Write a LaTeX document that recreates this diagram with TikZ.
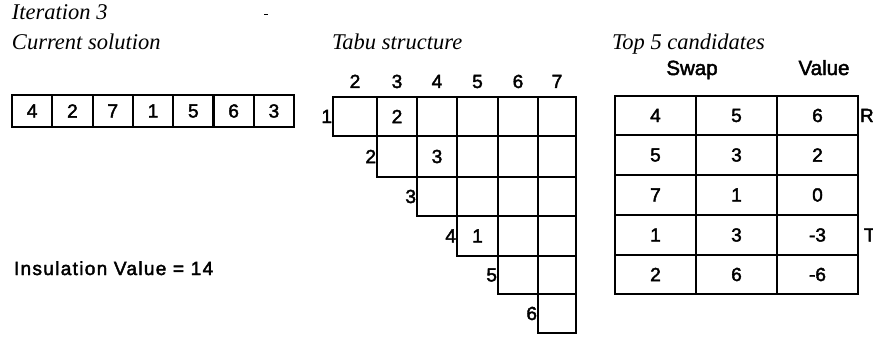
\documentclass[tikz,border=0pt]{standalone}
\usepackage{fontspec}
\setmainfont{Liberation Sans}
\newfontfamily\labelfont{Liberation Sans}[RawFeature={embolden=2.2}]
\newfontfamily\titlefont{Liberation Serif}
\begin{document}
\begin{tikzpicture}[x=1pt,y=-1pt,
  every node/.style={inner sep=0pt,outer sep=0pt},
  rule/.style={line width=2.1pt},
  title/.style={anchor=base west,font=\titlefont\itshape\fontsize{22.5}{22.5}\selectfont},
  digit/.style={font=\labelfont\fontsize{19}{19}\selectfont},
  head/.style={font=\labelfont\fontsize{20.5}{20.5}\selectfont},
  cell/.style={draw,rule,rectangle,anchor=north west,font=\labelfont\fontsize{19}{19}\selectfont}
]
\useasboundingbox (0,0) rectangle (873,337);
\clip (0,0) rectangle (873,337);

% headings
\node[title] (it) at (12,20) {Iteration 3};
\node[title] (cs) at (12,50) {Current solution};
\node[title] (ts) at (332,50) {Tabu structure};
\node[title] (tc) at (612,50) {Top 5 candidates};
\draw[line width=0.9pt] (264,14) -- (268,14);

% current solution: the permutation in a row of boxes
\foreach \v [count=\i] in {4,2,7,1,5,6,3}{
  \node[cell,minimum width=40.3pt,minimum height=32pt]
    (s\i) at ({12+40.3*(\i-1)},95) {\v};
}
\node[anchor=base west,font=\labelfont\fontsize{19}{19}\selectfont\addfontfeature{LetterSpace=7}]
  (ins) at (14,275) {Insulation Value = 14};

% tabu structure: upper triangular grid
\def\colx{{333,377,417,457,498,538,576}}
\def\rowy{{97,136,177,216,256,294,333}}
\foreach \c [count=\j from 2] in {0,...,5}{
  \pgfmathsetmacro{\xa}{\colx[\c]}
  \pgfmathsetmacro{\xb}{\colx[\c+1]}
  \node[digit,anchor=base] (h\j) at ({(\xa+\xb)/2},88) {\j};
}
\foreach \r in {0,...,5}{
  \pgfmathtruncatemacro{\rn}{\r+1}
  \pgfmathsetmacro{\ya}{\rowy[\r]}
  \pgfmathsetmacro{\yb}{\rowy[\r+1]}
  \foreach \c in {\r,...,5}{
    \pgfmathsetmacro{\xa}{\colx[\c]}
    \pgfmathsetmacro{\xb}{\colx[\c+1]}
    \node[cell,minimum width={\xb-\xa},minimum height={\yb-\ya}]
      (t\r-\c) at (\xa,\ya) {};
  }
  \node[digit,anchor=east] (l\rn) at ([xshift=-1pt]t\r-\r.west) {\rn};
}
\node[digit] (m1) at (t0-1) {2};
\node[digit] (m2) at (t1-2) {3};
\node[digit] (m3) at (t3-3) {1};

% top candidates table
\node[head,anchor=base] (sw) at (692,75) {Swap};
\node[head,anchor=base] (va) at (824,75) {Value};
\def\cy{{96,135,175,215,255,294}}
\foreach \a/\b/\v [count=\k from 0] in {4/5/6,5/3/2,7/1/0,1/3/-3,2/6/-6}{
  \pgfmathsetmacro{\ya}{\cy[\k]}
  \pgfmathsetmacro{\yb}{\cy[\k+1]}
  \node[cell,minimum width=81pt,minimum height={\yb-\ya}] (c\k a) at (615,\ya) {\a};
  \node[cell,minimum width=81pt,minimum height={\yb-\ya}] (c\k b) at (696,\ya) {\b};
  \node[cell,minimum width=81pt,minimum height={\yb-\ya}] (c\k c) at (777,\ya) {\v};
}
% marginal letters running off the right edge
\node[digit,anchor=west] (mr) at ([xshift=2pt]c0c.east) {R};
\node[digit,anchor=west] (mt) at ([xshift=6pt]c3c.east) {T};
\end{tikzpicture}
\end{document}
